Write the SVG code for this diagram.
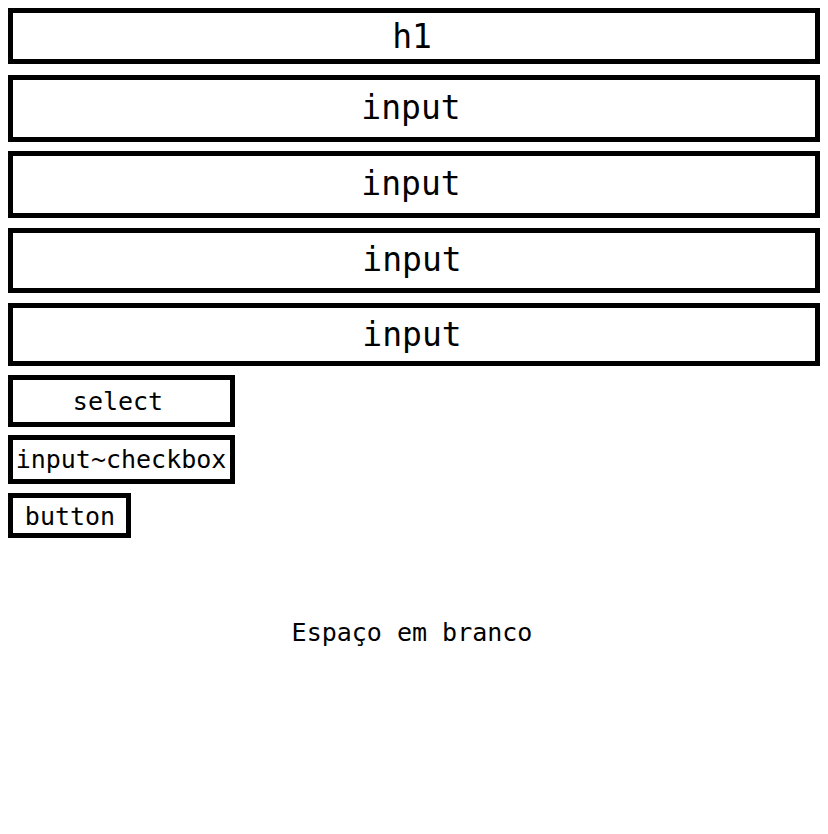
<svg xmlns="http://www.w3.org/2000/svg" width="828" height="834" viewBox="0 0 828 834">
<style>
.box{fill:#fff;stroke:#000;stroke-width:5}
.t{font-family:"DejaVu Sans Mono","Liberation Mono",monospace;fill:#000;text-anchor:middle}
.big{font-size:33px}
.sm{font-size:25px}
</style>
<rect width="828" height="834" fill="#fff"/>
<g id="h1"><rect class="box" x="10.5" y="10.5" width="807" height="51"/><text class="t big" x="412" y="48">h1</text></g>
<g id="input1"><rect class="box" x="10.5" y="77.5" width="807" height="62"/><text class="t big" x="411" y="119">input</text></g>
<g id="input2"><rect class="box" x="10.5" y="153.5" width="807" height="62"/><text class="t big" x="411" y="195">input</text></g>
<g id="input3"><rect class="box" x="10.5" y="230.5" width="807" height="60"/><text class="t big" x="412" y="271">input</text></g>
<g id="input4"><rect class="box" x="10.5" y="305.5" width="807" height="58"/><text class="t big" x="412" y="346">input</text></g>
<g id="select"><rect class="box" x="10.5" y="377.5" width="222" height="47"/><text class="t sm" x="118" y="410">select</text></g>
<g id="checkbox"><rect class="box" x="10.5" y="437.5" width="222" height="44"/><text class="t sm" x="121" y="468">input~checkbox</text></g>
<g id="button"><rect class="box" x="10.5" y="495.5" width="118" height="40"/><text class="t sm" x="70" y="525">button</text></g>
<g id="espaco"><text class="t sm" x="412" y="641">Espaço em branco</text></g>
<g id="connectors"></g>
</svg>
